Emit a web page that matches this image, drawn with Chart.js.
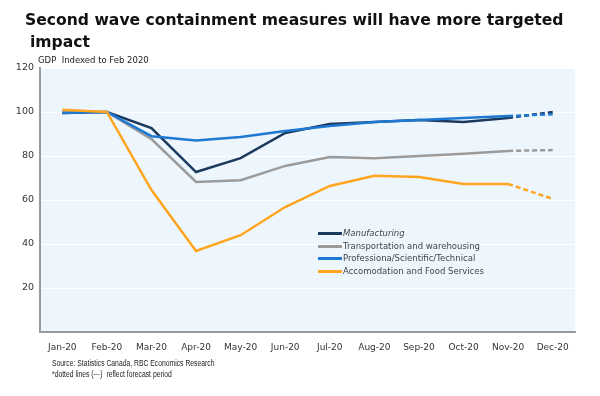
<!DOCTYPE html>
<html>
<head>
<meta charset="utf-8">
<script src="https://cdn.jsdelivr.net/npm/chart.js@4"></script>
<style>
    body { margin: 0; background: #fff; }
    #wrap { position: relative; width: 600px; height: 396px; overflow: hidden; font-family: "DejaVu Sans", sans-serif; }
    #chart { position: absolute; left: 0; top: 0; }
    .title { position: absolute; left: 25px; font-weight: bold; font-size: 15.6px; color: #111; white-space: nowrap; }
    .small { position: absolute; font-size: 8.5px; color: #222; white-space: nowrap; }
    .foot { position: absolute; font-family: "Liberation Sans", sans-serif; font-size: 8.5px; color: #222; white-space: nowrap; transform: scaleX(0.8); transform-origin: left top; }
    #legend { position: absolute; left: 318px; top: 227px; font-size: 8.5px; color: #444; }
    #legend div { height: 12.7px; line-height: 12.7px; white-space: nowrap; }
    #legend span.ln { display: inline-block; width: 24px; height: 3px; vertical-align: middle; margin-right: 1px; }
</style>
</head>
<body>
<div id="wrap">
    <canvas id="chart" width="600" height="396"></canvas>
    <div class="title" style="top: 11px;">Second wave containment measures will have more targeted</div>
    <div class="title" style="top: 33px; left: 30px;">impact</div>
    <div class="small" style="left: 38px; top: 55px;">GDP&nbsp; Indexed to Feb 2020</div>
    <div class="foot" style="left: 52px; top: 358px;">Source: Statistics Canada, RBC Economics Research</div>
    <div class="foot" style="left: 52px; top: 369px;">*dotted lines (---)&nbsp; reflect forecast period</div>
    <div id="legend"></div>
</div>
<script>
// Data
const months = ['Jan-20', 'Feb-20', 'Mar-20', 'Apr-20', 'May-20', 'Jun-20', 'Jul-20', 'Aug-20', 'Sep-20', 'Oct-20', 'Nov-20', 'Dec-20'];
const manufacturing = [99.5, 100, 92.7, 72.7, 79, 90.5, 94.5, 95.5, 96.4, 95.5, 97.3, 100];
const transportation = [100, 100, 87.7, 68.2, 69, 75.5, 79.5, 79, 80, 81, 82.3, 82.7];
const professional = [99.5, 100, 89, 87, 88.6, 91.4, 93.6, 95.5, 96.4, 97.3, 98.2, 99];
const foodServices = [101, 100, 64.5, 36.8, 44, 56.8, 66.4, 71, 70.5, 67.3, 67.3, 60.5];
const yTicks = [20, 40, 60, 80, 100, 120];

const forecastStart = 10; // Nov -> Dec is forecast

const series = [
    { label: 'Manufacturing', data: manufacturing, color: '#1c3a5e', italic: true },
    { label: 'Transportation and warehousing', data: transportation, color: '#9b9b9b' },
    { label: 'Professiona/Scientific/Technical', data: professional, color: '#1f78d1' },
    { label: 'Accomodation and Food Services', data: foodServices, color: '#ffa51f' }
];

// plot area background
const bgPlugin = {
    id: 'plotBg',
    beforeDraw(chart) {
        const { ctx, chartArea: a } = chart;
        ctx.save();
        ctx.fillStyle = '#eef6fd';
        ctx.fillRect(a.left, a.top, a.right - a.left, a.bottom - a.top);
        ctx.restore();
    }
};

const datasets = series.map(s => ({
    label: s.label,
    data: s.data,
    borderColor: s.color,
    borderWidth: 2.5,
    pointRadius: 0,
    tension: 0,
    fill: false,
    segment: {
        borderDash: ctx => ctx.p0DataIndex >= forecastStart ? [5, 3] : undefined
    }
}));

new Chart(document.getElementById('chart'), {
    type: 'line',
    data: { labels: months, datasets: datasets.slice().reverse() },
    options: {
        responsive: false,
        animation: false,
        layout: { padding: { left: 0, top: 68, right: 25, bottom: 0 } },
        plugins: { legend: { display: false }, tooltip: { enabled: false } },
        scales: {
            x: {
                offset: true,
                grid: { display: false, drawTicks: false },
                border: { color: '#9a9a9a', width: 2 },
                ticks: { color: '#333', font: { family: 'DejaVu Sans', size: 9 }, padding: 10, maxRotation: 0, autoSkip: false },
                afterFit: s => { s.height = 64; }
            },
            y: {
                min: 0, max: 120,
                afterBuildTicks: s => { s.ticks = yTicks.map(v => ({ value: v })); },
                grid: { color: '#ffffff', lineWidth: 1, drawTicks: false },
                border: { color: '#9a9a9a', width: 2 },
                ticks: { color: '#333', font: { family: 'DejaVu Sans', size: 9.5 }, padding: 6 },
                afterFit: s => { s.width = 40; }
            }
        }
    },
    plugins: [bgPlugin]
});

// Legend
const legend = document.getElementById('legend');
series.forEach(s => {
    const row = document.createElement('div');
    row.innerHTML = `<span class="ln" style="background:${s.color}"></span><span style="${s.italic ? 'font-style:italic' : ''}">${s.label}</span>`;
    legend.appendChild(row);
});
</script>
</body>
</html>
